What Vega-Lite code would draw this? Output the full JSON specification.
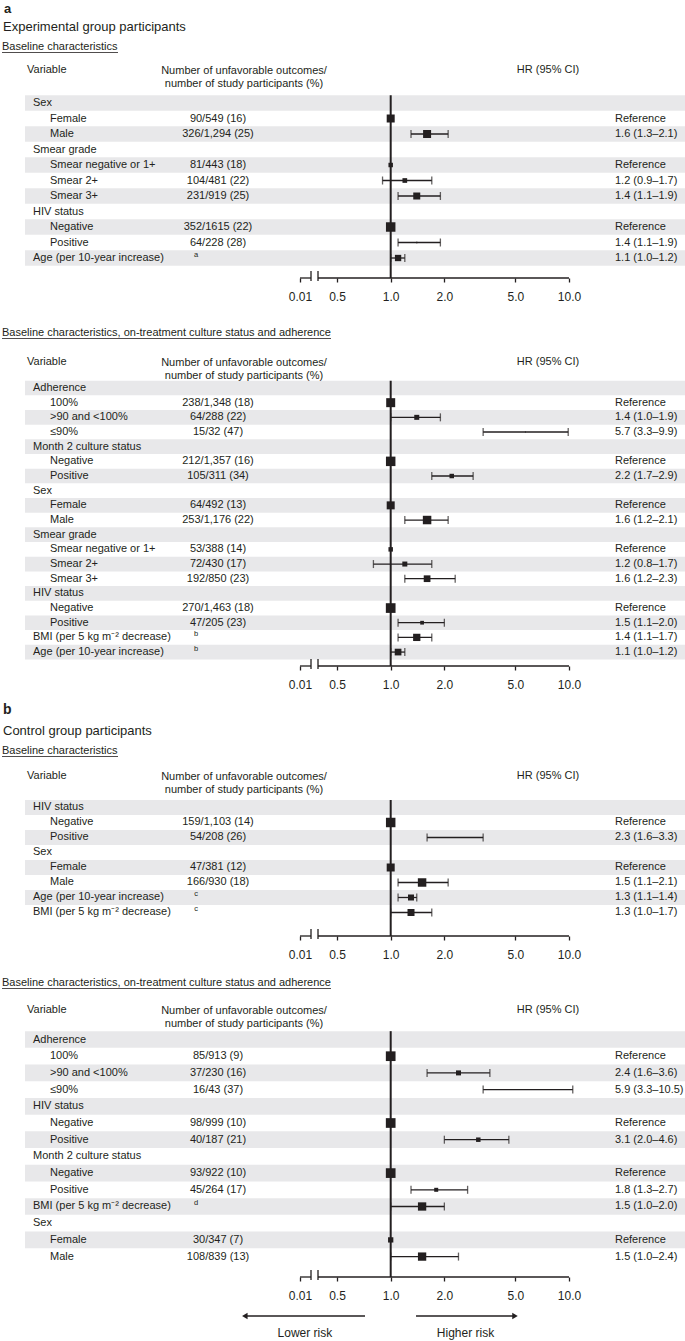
{
"$schema": "https://vega.github.io/schema/vega-lite/v6.json",
"padding": 0,
"autosize": {"type": "pad"},
"spacing": 0,
"bounds": "flush",
"config": {
  "font": "Liberation Sans",
  "view": {"stroke": null},
  "text": {"font": "Liberation Sans", "fontSize": 11, "color": "#231f20"},
  "axis": {"labelFont": "Liberation Sans", "labelFontSize": 12, "labelColor": "#231f20", "tickColor": "#231f20", "tickWidth": 1.3, "tickSize": 4, "labelPadding": 9, "domain": false, "grid": false}
},
"datasets": {
  "axisline": [{"a": 0.3099, "b": 0.3573}, {"a": 0.3911, "b": 10}],
  "breaks": [{"v": 0.3573}, {"v": 0.3911}],
  "arrows": [{"label": "Lower risk", "from": 0.718, "to": 0.152}, {"label": "Higher risk", "from": 1.387, "to": 4.98}],
  "p1": [
    {"r": 1, "label": "Sex", "level": 0},
    {"r": 2, "label": "Female", "level": 1, "count": "90/549 (16)", "hrText": "Reference", "hr": 1, "weight": 64},
    {"r": 3, "label": "Male", "level": 1, "count": "326/1,294 (25)", "hrText": "1.6 (1.3–2.1)", "hr": 1.6, "lo": 1.3, "hi": 2.1, "weight": 64},
    {"r": 4, "label": "Smear grade", "level": 0},
    {"r": 5, "label": "Smear negative or 1+", "level": 1, "count": "81/443 (18)", "hrText": "Reference", "hr": 1, "weight": 20},
    {"r": 6, "label": "Smear 2+", "level": 1, "count": "104/481 (22)", "hrText": "1.2 (0.9–1.7)", "hr": 1.2, "lo": 0.9, "hi": 1.7, "weight": 22},
    {"r": 7, "label": "Smear 3+", "level": 1, "count": "231/919 (25)", "hrText": "1.4 (1.1–1.9)", "hr": 1.4, "lo": 1.1, "hi": 1.9, "weight": 49},
    {"r": 8, "label": "HIV status", "level": 0},
    {"r": 9, "label": "Negative", "level": 1, "count": "352/1615 (22)", "hrText": "Reference", "hr": 1, "weight": 90},
    {"r": 10, "label": "Positive", "level": 1, "count": "64/228 (28)", "hrText": "1.4 (1.1–1.9)", "hr": 1.4, "lo": 1.1, "hi": 1.9, "weight": 2},
    {"r": 11, "label": "Age (per 10-year increase)", "level": 0, "note": "a", "hrText": "1.1 (1.0–1.2)", "hr": 1.1, "lo": 1.0, "hi": 1.2, "weight": 40}
  ],
  "p2": [
    {"r": 1, "label": "Adherence", "level": 0},
    {"r": 2, "label": "100%", "level": 1, "count": "238/1,348 (18)", "hrText": "Reference", "hr": 1, "weight": 81},
    {"r": 3, "label": ">90 and <100%", "level": 1, "count": "64/288 (22)", "hrText": "1.4 (1.0–1.9)", "hr": 1.4, "lo": 1.0, "hi": 1.9, "weight": 25},
    {"r": 4, "label": "≤90%", "level": 1, "count": "15/32 (47)", "hrText": "5.7 (3.3–9.9)", "hr": 5.7, "lo": 3.3, "hi": 9.9, "weight": 1},
    {"r": 5, "label": "Month 2 culture status", "level": 0},
    {"r": 6, "label": "Negative", "level": 1, "count": "212/1,357 (16)", "hrText": "Reference", "hr": 1, "weight": 90},
    {"r": 7, "label": "Positive", "level": 1, "count": "105/311 (34)", "hrText": "2.2 (1.7–2.9)", "hr": 2.2, "lo": 1.7, "hi": 2.9, "weight": 20},
    {"r": 8, "label": "Sex", "level": 0},
    {"r": 9, "label": "Female", "level": 1, "count": "64/492 (13)", "hrText": "Reference", "hr": 1, "weight": 64},
    {"r": 10, "label": "Male", "level": 1, "count": "253/1,176 (22)", "hrText": "1.6 (1.2–2.1)", "hr": 1.6, "lo": 1.2, "hi": 2.1, "weight": 72},
    {"r": 11, "label": "Smear grade", "level": 0},
    {"r": 12, "label": "Smear negative or 1+", "level": 1, "count": "53/388 (14)", "hrText": "Reference", "hr": 1, "weight": 20},
    {"r": 13, "label": "Smear 2+", "level": 1, "count": "72/430 (17)", "hrText": "1.2 (0.8–1.7)", "hr": 1.2, "lo": 0.8, "hi": 1.7, "weight": 25},
    {"r": 14, "label": "Smear 3+", "level": 1, "count": "192/850 (23)", "hrText": "1.6 (1.2–2.3)", "hr": 1.6, "lo": 1.2, "hi": 2.3, "weight": 45},
    {"r": 15, "label": "HIV status", "level": 0},
    {"r": 16, "label": "Negative", "level": 1, "count": "270/1,463 (18)", "hrText": "Reference", "hr": 1, "weight": 94},
    {"r": 17, "label": "Positive", "level": 1, "count": "47/205 (23)", "hrText": "1.5 (1.1–2.0)", "hr": 1.5, "lo": 1.1, "hi": 2.0, "weight": 14},
    {"r": 18, "label": "BMI (per 5 kg m⁻² decrease)", "level": 0, "note": "b", "hrText": "1.4 (1.1–1.7)", "hr": 1.4, "lo": 1.1, "hi": 1.7, "weight": 53},
    {"r": 19, "label": "Age (per 10-year increase)", "level": 0, "note": "b", "hrText": "1.1 (1.0–1.2)", "hr": 1.1, "lo": 1.0, "hi": 1.2, "weight": 45}
  ],
  "p3": [
    {"r": 1, "label": "HIV status", "level": 0},
    {"r": 2, "label": "Negative", "level": 1, "count": "159/1,103 (14)", "hrText": "Reference", "hr": 1, "weight": 90},
    {"r": 3, "label": "Positive", "level": 1, "count": "54/208 (26)", "hrText": "2.3 (1.6–3.3)", "hr": 2.3, "lo": 1.6, "hi": 3.3, "weight": 1},
    {"r": 4, "label": "Sex", "level": 0},
    {"r": 5, "label": "Female", "level": 1, "count": "47/381 (12)", "hrText": "Reference", "hr": 1, "weight": 64},
    {"r": 6, "label": "Male", "level": 1, "count": "166/930 (18)", "hrText": "1.5 (1.1–2.1)", "hr": 1.5, "lo": 1.1, "hi": 2.1, "weight": 72},
    {"r": 7, "label": "Age (per 10-year increase)", "level": 0, "note": "c", "hrText": "1.3 (1.1–1.4)", "hr": 1.3, "lo": 1.1, "hi": 1.4, "weight": 36},
    {"r": 8, "label": "BMI (per 5 kg m⁻² decrease)", "level": 0, "note": "c", "hrText": "1.3 (1.0–1.7)", "hr": 1.3, "lo": 1.0, "hi": 1.7, "weight": 49}
  ],
  "p4": [
    {"r": 1, "label": "Adherence", "level": 0},
    {"r": 2, "label": "100%", "level": 1, "count": "85/913 (9)", "hrText": "Reference", "hr": 1, "weight": 94},
    {"r": 3, "label": ">90 and <100%", "level": 1, "count": "37/230 (16)", "hrText": "2.4 (1.6–3.6)", "hr": 2.4, "lo": 1.6, "hi": 3.6, "weight": 25},
    {"r": 4, "label": "≤90%", "level": 1, "count": "16/43 (37)", "hrText": "5.9 (3.3–10.5)", "hr": 5.9, "lo": 3.3, "hi": 10.5, "weight": 1},
    {"r": 5, "label": "HIV status", "level": 0},
    {"r": 6, "label": "Negative", "level": 1, "count": "98/999 (10)", "hrText": "Reference", "hr": 1, "weight": 94},
    {"r": 7, "label": "Positive", "level": 1, "count": "40/187 (21)", "hrText": "3.1 (2.0–4.6)", "hr": 3.1, "lo": 2.0, "hi": 4.6, "weight": 20},
    {"r": 8, "label": "Month 2 culture status", "level": 0},
    {"r": 9, "label": "Negative", "level": 1, "count": "93/922 (10)", "hrText": "Reference", "hr": 1, "weight": 94},
    {"r": 10, "label": "Positive", "level": 1, "count": "45/264 (17)", "hrText": "1.8 (1.3–2.7)", "hr": 1.8, "lo": 1.3, "hi": 2.7, "weight": 16},
    {"r": 11, "label": "BMI (per 5 kg m⁻² decrease)", "level": 0, "note": "d", "hrText": "1.5 (1.0–2.0)", "hr": 1.5, "lo": 1.0, "hi": 2.0, "weight": 69},
    {"r": 12, "label": "Sex", "level": 0},
    {"r": 13, "label": "Female", "level": 1, "count": "30/347 (7)", "hrText": "Reference", "hr": 1, "weight": 28},
    {"r": 14, "label": "Male", "level": 1, "count": "108/839 (13)", "hrText": "1.5 (1.0–2.4)", "hr": 1.5, "lo": 1.0, "hi": 2.4, "weight": 69}
  ]
},
"vconcat": [
{
"width": 685, "height": 278,
"data": {"name": "p1"},
"layer": [
 {"transform": [{"filter": "datum.r % 2 == 1"}, {"calculate": "datum.r - 0.5", "as": "r0"}, {"calculate": "datum.r + 0.5", "as": "r1"}],
  "mark": {"type": "rect", "color": "#e8e8ea"},
  "encoding": {"x": {"value": 25}, "x2": {"value": 685}, "y": {"field": "r0", "type": "quantitative", "scale": {"domain": [-5.645, 12.29], "reverse": true, "nice": false, "zero": false}, "axis": null}, "y2": {"field": "r1"}}},
 {"data": {"values": [{}]}, "mark": {"type": "rule", "color": "#231f20", "strokeWidth": 2},
  "encoding": {"x": {"datum": 1, "type": "quantitative", "scale": {"type": "log", "domain": [0.006437, 44.74], "nice": false}, "title": null}, "y": {"datum": 0.5, "type": "quantitative", "axis": null}, "y2": {"value": 278}}},
 {"transform": [{"filter": "isValid(datum.lo)"}], "mark": {"type": "rule", "color": "#231f20", "strokeWidth": 1.3},
  "encoding": {"x": {"field": "lo", "type": "quantitative", "title": null, "axis": {"values": [0.3099, 0.5, 1, 2, 5, 10], "labelExpr": "datum.value < 0.4 ? '0.01' : format(datum.value, '.1f')", "labelOverlap": false, "labelFlush": false, "title": null}}, "x2": {"field": "hi"}, "y": {"field": "r", "type": "quantitative", "axis": null}}},
 {"transform": [{"filter": "isValid(datum.lo)"}], "mark": {"type": "tick", "orient": "vertical", "color": "#231f20", "thickness": 1.3, "size": 8},
  "encoding": {"x": {"field": "lo", "type": "quantitative", "title": null}, "y": {"field": "r", "type": "quantitative", "axis": null}}},
 {"transform": [{"filter": "isValid(datum.hi)"}], "mark": {"type": "tick", "orient": "vertical", "color": "#231f20", "thickness": 1.3, "size": 8},
  "encoding": {"x": {"field": "hi", "type": "quantitative", "title": null}, "y": {"field": "r", "type": "quantitative", "axis": null}}},
 {"transform": [{"filter": "isValid(datum.hr)"}], "mark": {"type": "point", "shape": "square", "filled": true, "color": "#231f20", "opacity": 1},
  "encoding": {"x": {"field": "hr", "type": "quantitative", "title": null}, "y": {"field": "r", "type": "quantitative", "axis": null}, "size": {"field": "weight", "type": "quantitative", "scale": {"domain": [0, 100], "range": [0, 100]}, "legend": null}}},
 {"data": {"name": "axisline"}, "mark": {"type": "rule", "color": "#231f20", "strokeWidth": 1.3},
  "encoding": {"x": {"field": "a", "type": "quantitative", "title": null}, "x2": {"field": "b"}, "y": {"value": 278}}},
 {"data": {"name": "breaks"}, "mark": {"type": "rule", "color": "#231f20", "strokeWidth": 1.3},
  "encoding": {"x": {"field": "v", "type": "quantitative", "title": null}, "y": {"value": 271}, "y2": {"value": 281}}},
 {"transform": [{"filter": "datum.level == 0"}], "mark": {"type": "text", "align": "left", "baseline": "middle"},
  "encoding": {"x": {"value": 33}, "y": {"field": "r", "type": "quantitative", "axis": null}, "text": {"field": "label"}}},
 {"transform": [{"filter": "datum.level == 1"}], "mark": {"type": "text", "align": "left", "baseline": "middle"},
  "encoding": {"x": {"value": 50}, "y": {"field": "r", "type": "quantitative", "axis": null}, "text": {"field": "label"}}},
 {"transform": [{"filter": "isValid(datum.count)"}], "mark": {"type": "text", "align": "center", "baseline": "middle"},
  "encoding": {"x": {"value": 218}, "y": {"field": "r", "type": "quantitative", "axis": null}, "text": {"field": "count"}}},
 {"transform": [{"filter": "isValid(datum.note)"}], "mark": {"type": "text", "align": "center", "baseline": "middle", "fontSize": 7.5, "dy": -3},
  "encoding": {"x": {"value": 196}, "y": {"field": "r", "type": "quantitative", "axis": null}, "text": {"field": "note"}}},
 {"transform": [{"filter": "isValid(datum.hrText)"}], "mark": {"type": "text", "align": "left", "baseline": "middle"},
  "encoding": {"x": {"value": 615}, "y": {"field": "r", "type": "quantitative", "axis": null}, "text": {"field": "hrText"}}},
 {"data": {"values": [{}]}, "mark": {"type": "text", "text": "a", "align": "left", "baseline": "middle", "fontSize": 13, "fontWeight": "bold"}, "encoding": {"x": {"value": 4}, "y": {"value": 9}}},
 {"data": {"values": [{}]}, "mark": {"type": "text", "text": "Experimental group participants", "align": "left", "baseline": "middle", "fontSize": 13}, "encoding": {"x": {"value": 3}, "y": {"value": 27}}},
 {"data": {"values": [{}]}, "mark": {"type": "text", "text": "Baseline characteristics", "align": "left", "baseline": "middle"}, "encoding": {"x": {"value": 2}, "y": {"value": 47}}},
 {"data": {"values": [{}]}, "mark": {"type": "rule", "color": "#231f20", "strokeWidth": 0.8}, "encoding": {"x": {"value": 2}, "x2": {"value": 118}, "y": {"value": 52.5}}},
 {"data": {"values": [{}]}, "mark": {"type": "text", "text": "Variable", "align": "left", "baseline": "middle"}, "encoding": {"x": {"value": 27}, "y": {"value": 70}}},
 {"data": {"values": [{}]}, "mark": {"type": "text", "text": ["Number of unfavorable outcomes/", "number of study participants (%)"], "align": "center", "baseline": "top", "lineHeight": 12.5}, "encoding": {"x": {"value": 244}, "y": {"value": 65}}},
 {"data": {"values": [{}]}, "mark": {"type": "text", "text": "HR (95% CI)", "align": "center", "baseline": "middle"}, "encoding": {"x": {"value": 548}, "y": {"value": 70}}}
]},
{
"width": 685, "height": 388,
"data": {"name": "p2"},
"layer": [
 {"transform": [{"filter": "datum.r % 2 == 1"}, {"calculate": "datum.r - 0.5", "as": "r0"}, {"calculate": "datum.r + 0.5", "as": "r1"}],
  "mark": {"type": "rect", "color": "#e8e8ea"},
  "encoding": {"x": {"value": 25}, "x2": {"value": 685}, "y": {"field": "r0", "type": "quantitative", "scale": {"domain": [-6.498, 19.95], "reverse": true, "nice": false, "zero": false}, "axis": null}, "y2": {"field": "r1"}}},
 {"data": {"values": [{}]}, "mark": {"type": "rule", "color": "#231f20", "strokeWidth": 2},
  "encoding": {"x": {"datum": 1, "type": "quantitative", "scale": {"type": "log", "domain": [0.006437, 44.74], "nice": false}, "title": null}, "y": {"datum": 0.5, "type": "quantitative", "axis": null}, "y2": {"value": 388}}},
 {"transform": [{"filter": "isValid(datum.lo)"}], "mark": {"type": "rule", "color": "#231f20", "strokeWidth": 1.3},
  "encoding": {"x": {"field": "lo", "type": "quantitative", "title": null, "axis": {"values": [0.3099, 0.5, 1, 2, 5, 10], "labelExpr": "datum.value < 0.4 ? '0.01' : format(datum.value, '.1f')", "labelOverlap": false, "labelFlush": false, "title": null}}, "x2": {"field": "hi"}, "y": {"field": "r", "type": "quantitative", "axis": null}}},
 {"transform": [{"filter": "isValid(datum.lo)"}], "mark": {"type": "tick", "orient": "vertical", "color": "#231f20", "thickness": 1.3, "size": 8},
  "encoding": {"x": {"field": "lo", "type": "quantitative", "title": null}, "y": {"field": "r", "type": "quantitative", "axis": null}}},
 {"transform": [{"filter": "isValid(datum.hi)"}], "mark": {"type": "tick", "orient": "vertical", "color": "#231f20", "thickness": 1.3, "size": 8},
  "encoding": {"x": {"field": "hi", "type": "quantitative", "title": null}, "y": {"field": "r", "type": "quantitative", "axis": null}}},
 {"transform": [{"filter": "isValid(datum.hr)"}], "mark": {"type": "point", "shape": "square", "filled": true, "color": "#231f20", "opacity": 1},
  "encoding": {"x": {"field": "hr", "type": "quantitative", "title": null}, "y": {"field": "r", "type": "quantitative", "axis": null}, "size": {"field": "weight", "type": "quantitative", "scale": {"domain": [0, 100], "range": [0, 100]}, "legend": null}}},
 {"data": {"name": "axisline"}, "mark": {"type": "rule", "color": "#231f20", "strokeWidth": 1.3},
  "encoding": {"x": {"field": "a", "type": "quantitative", "title": null}, "x2": {"field": "b"}, "y": {"value": 388}}},
 {"data": {"name": "breaks"}, "mark": {"type": "rule", "color": "#231f20", "strokeWidth": 1.3},
  "encoding": {"x": {"field": "v", "type": "quantitative", "title": null}, "y": {"value": 381}, "y2": {"value": 391}}},
 {"transform": [{"filter": "datum.level == 0"}], "mark": {"type": "text", "align": "left", "baseline": "middle"},
  "encoding": {"x": {"value": 33}, "y": {"field": "r", "type": "quantitative", "axis": null}, "text": {"field": "label"}}},
 {"transform": [{"filter": "datum.level == 1"}], "mark": {"type": "text", "align": "left", "baseline": "middle"},
  "encoding": {"x": {"value": 50}, "y": {"field": "r", "type": "quantitative", "axis": null}, "text": {"field": "label"}}},
 {"transform": [{"filter": "isValid(datum.count)"}], "mark": {"type": "text", "align": "center", "baseline": "middle"},
  "encoding": {"x": {"value": 218}, "y": {"field": "r", "type": "quantitative", "axis": null}, "text": {"field": "count"}}},
 {"transform": [{"filter": "isValid(datum.note)"}], "mark": {"type": "text", "align": "center", "baseline": "middle", "fontSize": 7.5, "dy": -3},
  "encoding": {"x": {"value": 196}, "y": {"field": "r", "type": "quantitative", "axis": null}, "text": {"field": "note"}}},
 {"transform": [{"filter": "isValid(datum.hrText)"}], "mark": {"type": "text", "align": "left", "baseline": "middle"},
  "encoding": {"x": {"value": 615}, "y": {"field": "r", "type": "quantitative", "axis": null}, "text": {"field": "hrText"}}},
 {"data": {"values": [{}]}, "mark": {"type": "text", "text": "Baseline characteristics, on-treatment culture status and adherence", "align": "left", "baseline": "middle"}, "encoding": {"x": {"value": 2}, "y": {"value": 55}}},
 {"data": {"values": [{}]}, "mark": {"type": "rule", "color": "#231f20", "strokeWidth": 0.8}, "encoding": {"x": {"value": 2}, "x2": {"value": 331}, "y": {"value": 60.5}}},
 {"data": {"values": [{}]}, "mark": {"type": "text", "text": "Variable", "align": "left", "baseline": "middle"}, "encoding": {"x": {"value": 27}, "y": {"value": 84}}},
 {"data": {"values": [{}]}, "mark": {"type": "text", "text": ["Number of unfavorable outcomes/", "number of study participants (%)"], "align": "center", "baseline": "top", "lineHeight": 12.5}, "encoding": {"x": {"value": 244}, "y": {"value": 79}}},
 {"data": {"values": [{}]}, "mark": {"type": "text", "text": "HR (95% CI)", "align": "center", "baseline": "middle"}, "encoding": {"x": {"value": 548}, "y": {"value": 84}}}
]},
{
"width": 685, "height": 270,
"data": {"name": "p3"},
"layer": [
 {"transform": [{"filter": "datum.r % 2 == 1"}, {"calculate": "datum.r - 0.5", "as": "r0"}, {"calculate": "datum.r + 0.5", "as": "r1"}],
  "mark": {"type": "rect", "color": "#e8e8ea"},
  "encoding": {"x": {"value": 25}, "x2": {"value": 685}, "y": {"field": "r0", "type": "quantitative", "scale": {"domain": [-8.433, 9.567], "reverse": true, "nice": false, "zero": false}, "axis": null}, "y2": {"field": "r1"}}},
 {"data": {"values": [{}]}, "mark": {"type": "rule", "color": "#231f20", "strokeWidth": 2},
  "encoding": {"x": {"datum": 1, "type": "quantitative", "scale": {"type": "log", "domain": [0.006437, 44.74], "nice": false}, "title": null}, "y": {"datum": 0.5, "type": "quantitative", "axis": null}, "y2": {"value": 270}}},
 {"transform": [{"filter": "isValid(datum.lo)"}], "mark": {"type": "rule", "color": "#231f20", "strokeWidth": 1.3},
  "encoding": {"x": {"field": "lo", "type": "quantitative", "title": null, "axis": {"values": [0.3099, 0.5, 1, 2, 5, 10], "labelExpr": "datum.value < 0.4 ? '0.01' : format(datum.value, '.1f')", "labelOverlap": false, "labelFlush": false, "title": null}}, "x2": {"field": "hi"}, "y": {"field": "r", "type": "quantitative", "axis": null}}},
 {"transform": [{"filter": "isValid(datum.lo)"}], "mark": {"type": "tick", "orient": "vertical", "color": "#231f20", "thickness": 1.3, "size": 8},
  "encoding": {"x": {"field": "lo", "type": "quantitative", "title": null}, "y": {"field": "r", "type": "quantitative", "axis": null}}},
 {"transform": [{"filter": "isValid(datum.hi)"}], "mark": {"type": "tick", "orient": "vertical", "color": "#231f20", "thickness": 1.3, "size": 8},
  "encoding": {"x": {"field": "hi", "type": "quantitative", "title": null}, "y": {"field": "r", "type": "quantitative", "axis": null}}},
 {"transform": [{"filter": "isValid(datum.hr)"}], "mark": {"type": "point", "shape": "square", "filled": true, "color": "#231f20", "opacity": 1},
  "encoding": {"x": {"field": "hr", "type": "quantitative", "title": null}, "y": {"field": "r", "type": "quantitative", "axis": null}, "size": {"field": "weight", "type": "quantitative", "scale": {"domain": [0, 100], "range": [0, 100]}, "legend": null}}},
 {"data": {"name": "axisline"}, "mark": {"type": "rule", "color": "#231f20", "strokeWidth": 1.3},
  "encoding": {"x": {"field": "a", "type": "quantitative", "title": null}, "x2": {"field": "b"}, "y": {"value": 270}}},
 {"data": {"name": "breaks"}, "mark": {"type": "rule", "color": "#231f20", "strokeWidth": 1.3},
  "encoding": {"x": {"field": "v", "type": "quantitative", "title": null}, "y": {"value": 263}, "y2": {"value": 273}}},
 {"transform": [{"filter": "datum.level == 0"}], "mark": {"type": "text", "align": "left", "baseline": "middle"},
  "encoding": {"x": {"value": 33}, "y": {"field": "r", "type": "quantitative", "axis": null}, "text": {"field": "label"}}},
 {"transform": [{"filter": "datum.level == 1"}], "mark": {"type": "text", "align": "left", "baseline": "middle"},
  "encoding": {"x": {"value": 50}, "y": {"field": "r", "type": "quantitative", "axis": null}, "text": {"field": "label"}}},
 {"transform": [{"filter": "isValid(datum.count)"}], "mark": {"type": "text", "align": "center", "baseline": "middle"},
  "encoding": {"x": {"value": 218}, "y": {"field": "r", "type": "quantitative", "axis": null}, "text": {"field": "count"}}},
 {"transform": [{"filter": "isValid(datum.note)"}], "mark": {"type": "text", "align": "center", "baseline": "middle", "fontSize": 7.5, "dy": -3},
  "encoding": {"x": {"value": 196}, "y": {"field": "r", "type": "quantitative", "axis": null}, "text": {"field": "note"}}},
 {"transform": [{"filter": "isValid(datum.hrText)"}], "mark": {"type": "text", "align": "left", "baseline": "middle"},
  "encoding": {"x": {"value": 615}, "y": {"field": "r", "type": "quantitative", "axis": null}, "text": {"field": "hrText"}}},
 {"data": {"values": [{}]}, "mark": {"type": "text", "text": "b", "align": "left", "baseline": "middle", "fontSize": 14, "fontWeight": "bold"}, "encoding": {"x": {"value": 3}, "y": {"value": 44}}},
 {"data": {"values": [{}]}, "mark": {"type": "text", "text": "Control group participants", "align": "left", "baseline": "middle", "fontSize": 13}, "encoding": {"x": {"value": 3}, "y": {"value": 65}}},
 {"data": {"values": [{}]}, "mark": {"type": "text", "text": "Baseline characteristics", "align": "left", "baseline": "middle"}, "encoding": {"x": {"value": 2}, "y": {"value": 85}}},
 {"data": {"values": [{}]}, "mark": {"type": "rule", "color": "#231f20", "strokeWidth": 0.8}, "encoding": {"x": {"value": 2}, "x2": {"value": 118}, "y": {"value": 90.5}}},
 {"data": {"values": [{}]}, "mark": {"type": "text", "text": "Variable", "align": "left", "baseline": "middle"}, "encoding": {"x": {"value": 27}, "y": {"value": 110}}},
 {"data": {"values": [{}]}, "mark": {"type": "text", "text": ["Number of unfavorable outcomes/", "number of study participants (%)"], "align": "center", "baseline": "top", "lineHeight": 12.5}, "encoding": {"x": {"value": 244}, "y": {"value": 105}}},
 {"data": {"values": [{}]}, "mark": {"type": "text", "text": "HR (95% CI)", "align": "center", "baseline": "middle"}, "encoding": {"x": {"value": 548}, "y": {"value": 110}}}
]},
{
"width": 685, "height": 341,
"data": {"name": "p4"},
"layer": [
 {"transform": [{"filter": "datum.r % 2 == 1"}, {"calculate": "datum.r - 0.5", "as": "r0"}, {"calculate": "datum.r + 0.5", "as": "r1"}],
  "mark": {"type": "rect", "color": "#e8e8ea"},
  "encoding": {"x": {"value": 25}, "x2": {"value": 685}, "y": {"field": "r0", "type": "quantitative", "scale": {"domain": [-5.198, 15.222], "reverse": true, "nice": false, "zero": false}, "axis": null}, "y2": {"field": "r1"}}},
 {"data": {"values": [{}]}, "mark": {"type": "rule", "color": "#231f20", "strokeWidth": 2},
  "encoding": {"x": {"datum": 1, "type": "quantitative", "scale": {"type": "log", "domain": [0.006437, 44.74], "nice": false}, "title": null}, "y": {"datum": 0.5, "type": "quantitative", "axis": null}, "y2": {"value": 341}}},
 {"transform": [{"filter": "isValid(datum.lo)"}], "mark": {"type": "rule", "color": "#231f20", "strokeWidth": 1.3},
  "encoding": {"x": {"field": "lo", "type": "quantitative", "title": null, "axis": {"values": [0.3099, 0.5, 1, 2, 5, 10], "labelExpr": "datum.value < 0.4 ? '0.01' : format(datum.value, '.1f')", "labelOverlap": false, "labelFlush": false, "title": null}}, "x2": {"field": "hi"}, "y": {"field": "r", "type": "quantitative", "axis": null}}},
 {"transform": [{"filter": "isValid(datum.lo)"}], "mark": {"type": "tick", "orient": "vertical", "color": "#231f20", "thickness": 1.3, "size": 8},
  "encoding": {"x": {"field": "lo", "type": "quantitative", "title": null}, "y": {"field": "r", "type": "quantitative", "axis": null}}},
 {"transform": [{"filter": "isValid(datum.hi)"}], "mark": {"type": "tick", "orient": "vertical", "color": "#231f20", "thickness": 1.3, "size": 8},
  "encoding": {"x": {"field": "hi", "type": "quantitative", "title": null}, "y": {"field": "r", "type": "quantitative", "axis": null}}},
 {"transform": [{"filter": "isValid(datum.hr)"}], "mark": {"type": "point", "shape": "square", "filled": true, "color": "#231f20", "opacity": 1},
  "encoding": {"x": {"field": "hr", "type": "quantitative", "title": null}, "y": {"field": "r", "type": "quantitative", "axis": null}, "size": {"field": "weight", "type": "quantitative", "scale": {"domain": [0, 100], "range": [0, 100]}, "legend": null}}},
 {"data": {"name": "axisline"}, "mark": {"type": "rule", "color": "#231f20", "strokeWidth": 1.3},
  "encoding": {"x": {"field": "a", "type": "quantitative", "title": null}, "x2": {"field": "b"}, "y": {"value": 341}}},
 {"data": {"name": "breaks"}, "mark": {"type": "rule", "color": "#231f20", "strokeWidth": 1.3},
  "encoding": {"x": {"field": "v", "type": "quantitative", "title": null}, "y": {"value": 334}, "y2": {"value": 344}}},
 {"transform": [{"filter": "datum.level == 0"}], "mark": {"type": "text", "align": "left", "baseline": "middle"},
  "encoding": {"x": {"value": 33}, "y": {"field": "r", "type": "quantitative", "axis": null}, "text": {"field": "label"}}},
 {"transform": [{"filter": "datum.level == 1"}], "mark": {"type": "text", "align": "left", "baseline": "middle"},
  "encoding": {"x": {"value": 50}, "y": {"field": "r", "type": "quantitative", "axis": null}, "text": {"field": "label"}}},
 {"transform": [{"filter": "isValid(datum.count)"}], "mark": {"type": "text", "align": "center", "baseline": "middle"},
  "encoding": {"x": {"value": 218}, "y": {"field": "r", "type": "quantitative", "axis": null}, "text": {"field": "count"}}},
 {"transform": [{"filter": "isValid(datum.note)"}], "mark": {"type": "text", "align": "center", "baseline": "middle", "fontSize": 7.5, "dy": -3},
  "encoding": {"x": {"value": 196}, "y": {"field": "r", "type": "quantitative", "axis": null}, "text": {"field": "note"}}},
 {"transform": [{"filter": "isValid(datum.hrText)"}], "mark": {"type": "text", "align": "left", "baseline": "middle"},
  "encoding": {"x": {"value": 615}, "y": {"field": "r", "type": "quantitative", "axis": null}, "text": {"field": "hrText"}}},
 {"data": {"values": [{}]}, "mark": {"type": "text", "text": "Baseline characteristics, on-treatment culture status and adherence", "align": "left", "baseline": "middle"}, "encoding": {"x": {"value": 2}, "y": {"value": 47}}},
 {"data": {"values": [{}]}, "mark": {"type": "rule", "color": "#231f20", "strokeWidth": 0.8}, "encoding": {"x": {"value": 2}, "x2": {"value": 331}, "y": {"value": 52.5}}},
 {"data": {"values": [{}]}, "mark": {"type": "text", "text": "Variable", "align": "left", "baseline": "middle"}, "encoding": {"x": {"value": 27}, "y": {"value": 74}}},
 {"data": {"values": [{}]}, "mark": {"type": "text", "text": ["Number of unfavorable outcomes/", "number of study participants (%)"], "align": "center", "baseline": "top", "lineHeight": 12.5}, "encoding": {"x": {"value": 244}, "y": {"value": 69}}},
 {"data": {"values": [{}]}, "mark": {"type": "text", "text": "HR (95% CI)", "align": "center", "baseline": "middle"}, "encoding": {"x": {"value": 548}, "y": {"value": 74}}}
]},
{
"width": 685, "height": 64,
"data": {"name": "arrows"},
"layer": [
 {"mark": {"type": "rule", "color": "#231f20", "strokeWidth": 1.3},
  "encoding": {"x": {"field": "from", "type": "quantitative", "scale": {"type": "log", "domain": [0.006437, 44.74], "nice": false}, "axis": null}, "x2": {"field": "to"}, "y": {"value": 39}}},
 {"mark": {"type": "point", "filled": true, "color": "#231f20", "opacity": 1, "size": 40},
  "encoding": {"x": {"field": "to", "type": "quantitative", "axis": null}, "y": {"value": 39}, "shape": {"field": "label", "type": "nominal", "scale": {"domain": ["Lower risk", "Higher risk"], "range": ["triangle-left", "triangle-right"]}, "legend": null}}},
 {"transform": [{"calculate": "sqrt(datum.from * datum.to)", "as": "mid"}], "mark": {"type": "text", "align": "center", "baseline": "middle", "fontSize": 12},
  "encoding": {"x": {"field": "mid", "type": "quantitative", "axis": null}, "y": {"value": 56}, "text": {"field": "label"}}}
]}
]
}
